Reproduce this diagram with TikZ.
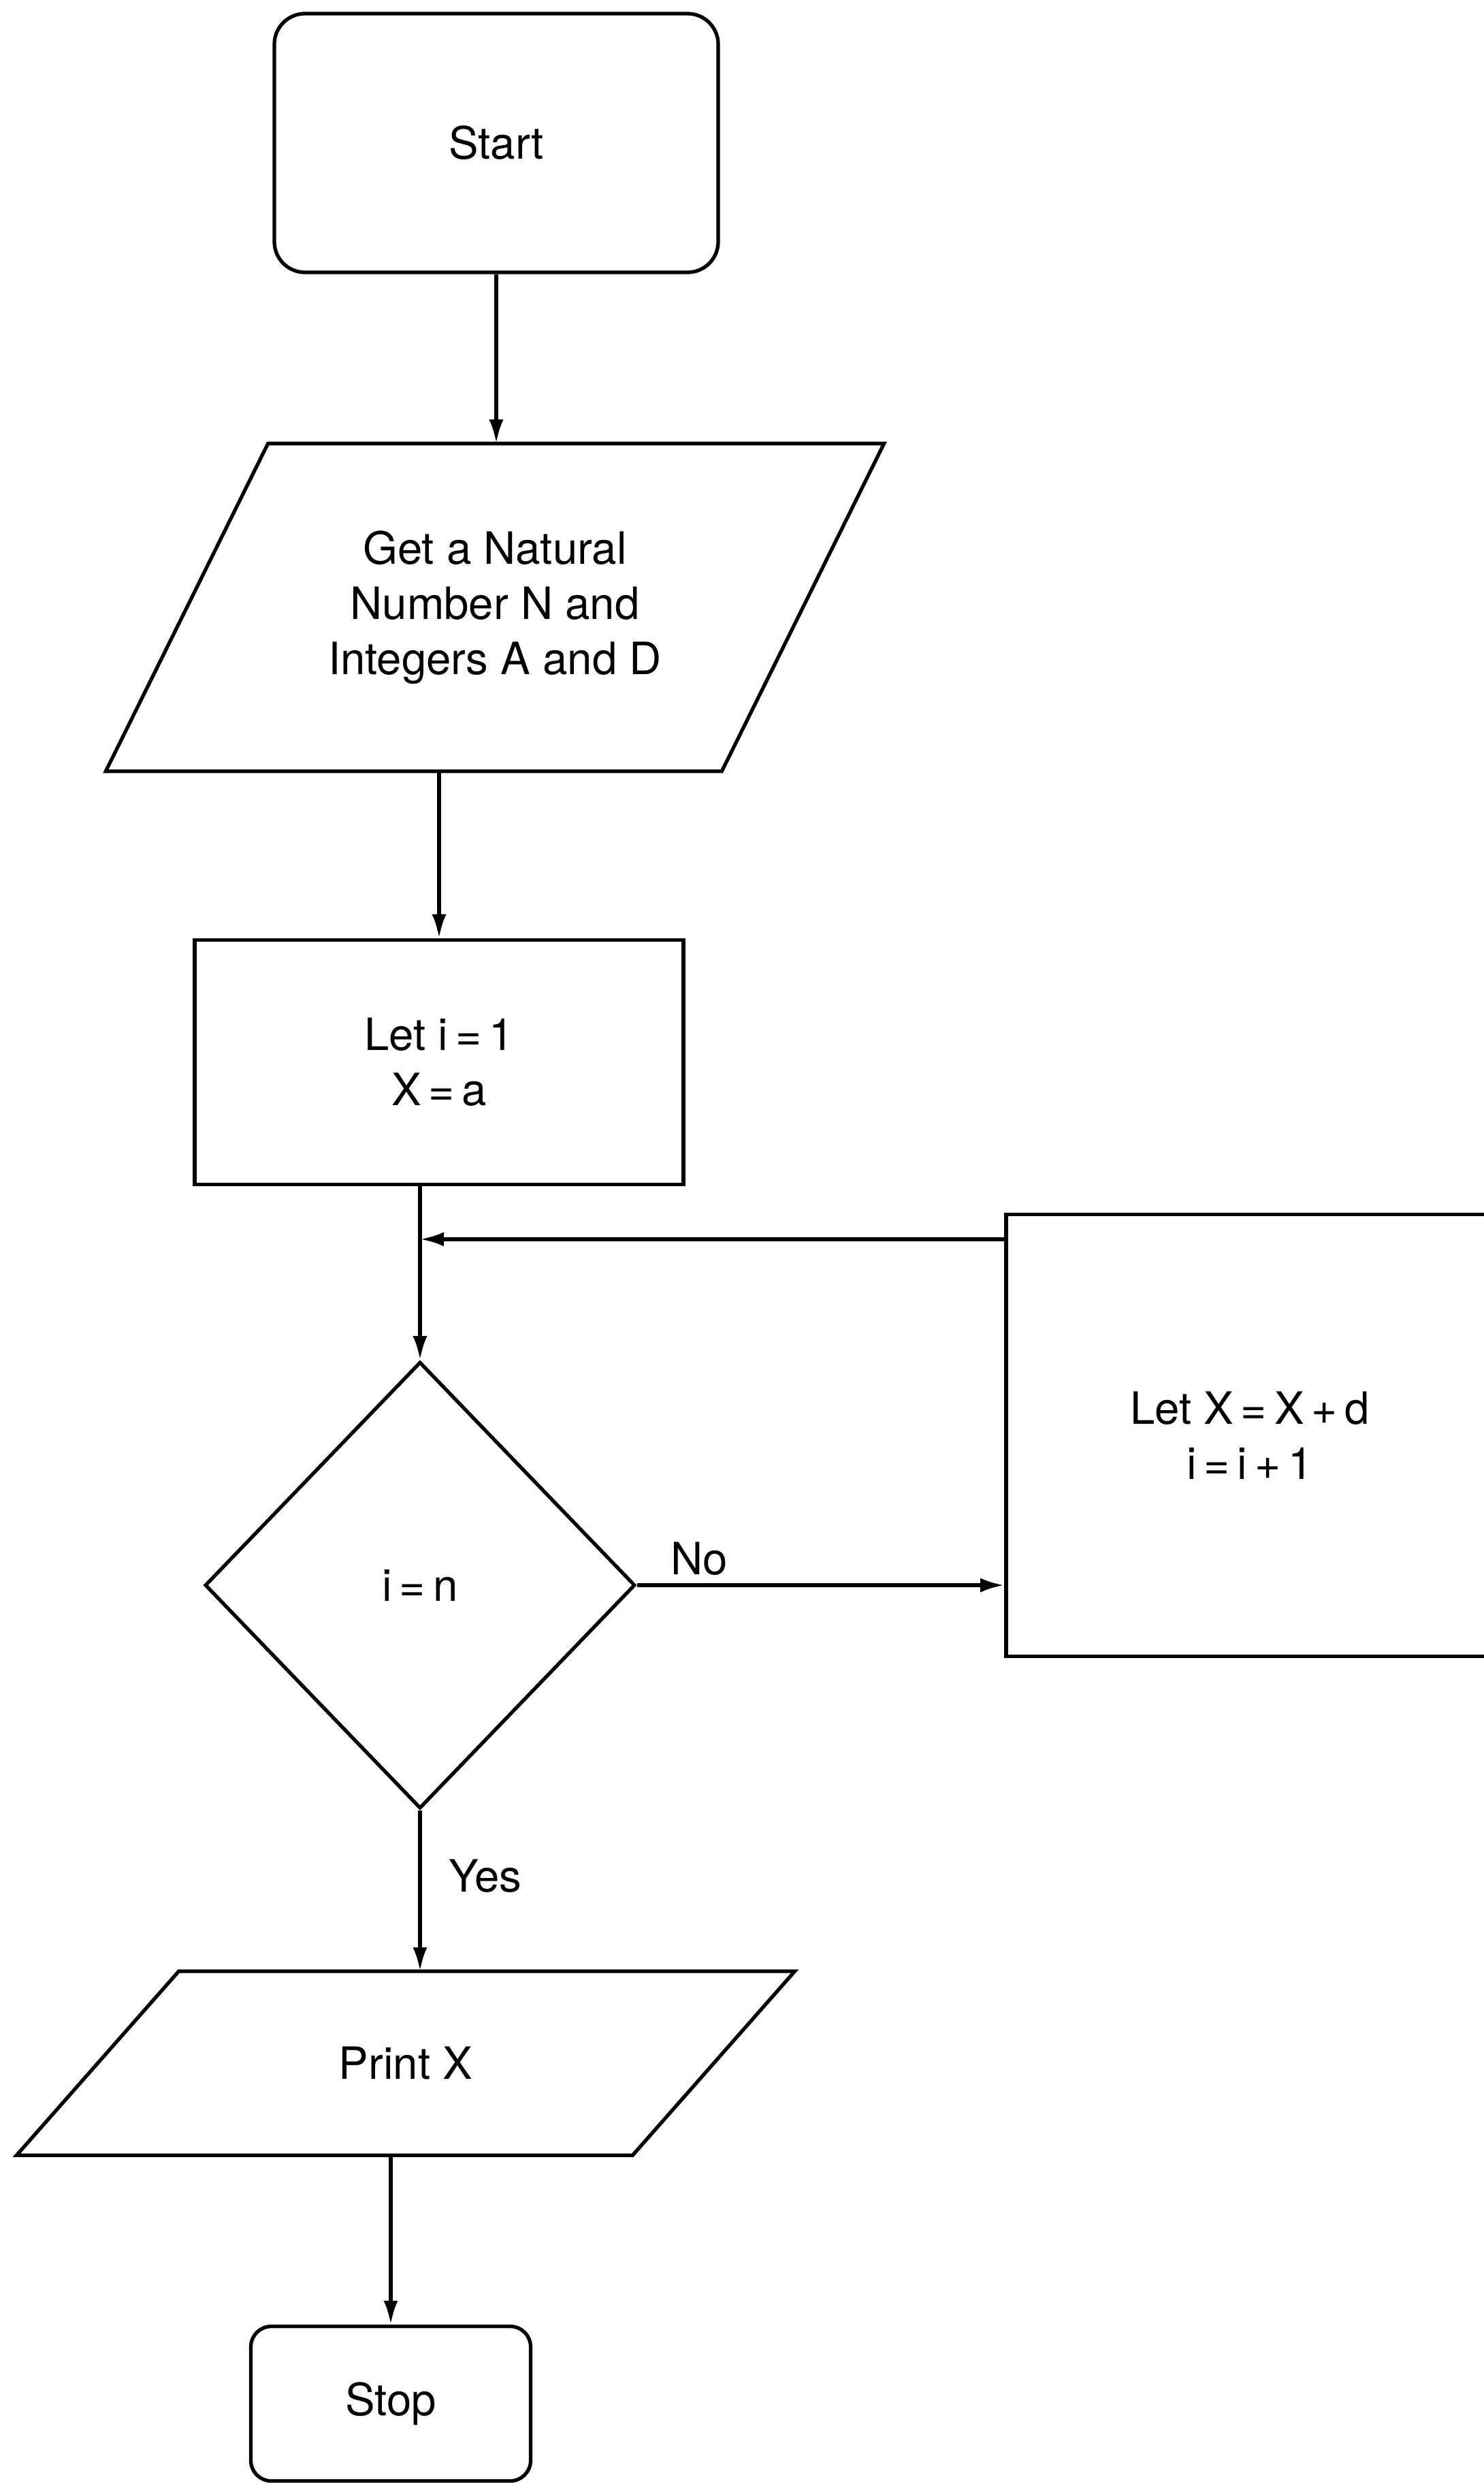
\documentclass[tikz,border=0pt]{standalone}
\usepackage{fontspec}
\setmainfont{TeX Gyre Heros}
\usetikzlibrary{shapes.geometric,arrows.meta}
\begin{document}
\begin{tikzpicture}[>={Latex[length=10pt,width=6pt]}, line width=1.5pt,
  every node/.style={font=\fontsize{18.6}{23}\selectfont, align=center},
  terminal/.style={draw, rectangle, inner sep=0pt},
  iobox/.style={rectangle, inner sep=0pt, minimum width=11.38cm},
  procbox/.style={draw, rectangle, inner sep=0pt},
  decbox/.style={draw, diamond, inner sep=0pt, minimum width=6.32cm, minimum height=6.56cm}]
% Page frame, the update box runs off the right edge
\useasboundingbox (0,0) rectangle (21.8,-36.48);
\clip (0,0) rectangle (21.8,-36.48);
% Start and input
\node [terminal, rounded corners=0.45cm, minimum width=6.52cm, minimum height=3.8cm] (start) at (7.29,-2.10) {Start};
\node [iobox, minimum height=4.76cm] (input) at (7.27,-8.92) {Get a Natural\\Number N and\\Integers A and D};
\draw (input.south west) -- ++(9.05,0) -- (input.north east) -- ++(-9.05,0) -- cycle;
\draw [->] (start.south) -- (start.south |- input.north);
% Initialisation
\node [procbox, minimum width=7.18cm, minimum height=3.59cm] (init) at (6.45,-15.60) {Let i\,=\,1\\X\,=\,a};
\draw [->] (init.north |- input.south) -- (init.north);
% Test
\node [decbox] (test) at (6.17,-23.28) {i\,=\,n};
\draw [->] (test.north |- init.south) -- (test.north);
% Loop body
\node [procbox, minimum width=7.16cm, minimum height=6.49cm] (step) at (18.36,-21.08) {Let X\,=\,X\,+\,d\\i\,=\,i\,+\,1};
\draw [->] (test.east) -- (test.east -| step.west) node [pos=0.17, above] {No};
\coordinate (back) at ([yshift=-0.39cm]step.north west);
\draw [->] (back) -- (back -| test.north);
% Output and stop
\node [iobox, minimum height=2.65cm] (output) at (5.96,-30.30) {Print X};
\draw (output.south west) -- ++(9.05,0) -- (output.north east) -- ++(-9.05,0) -- cycle;
\draw [->] (test.south) -- (test.south |- output.north) node [pos=0.41, right, xshift=8pt] {Yes};
\node [terminal, rounded corners=0.3cm, minimum width=4.11cm, minimum height=2.27cm] (stop) at (5.74,-35.30) {Stop};
\draw [->] (stop.north |- output.south) -- (stop.north);
\end{tikzpicture}
\end{document}
